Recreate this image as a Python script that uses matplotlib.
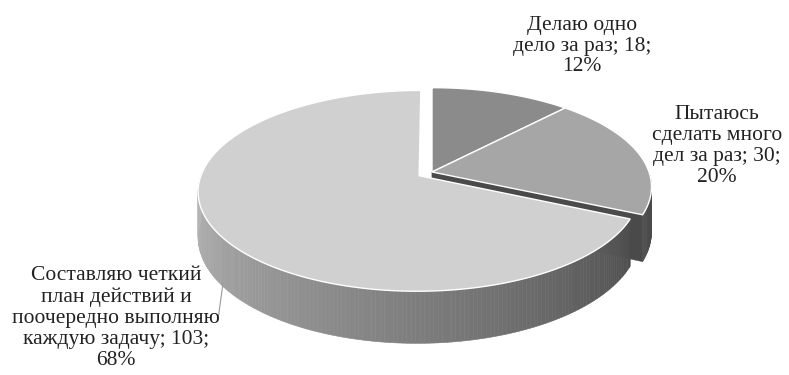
import numpy as np
import matplotlib.pyplot as plt
from matplotlib.patches import Polygon

plt.rcParams['font.family'] = ['Liberation Serif', 'DejaVu Serif']

# data
labels = ['Делаю одно\nдело за раз', 'Пытаюсь\nсделать много\nдел за раз',
          'Составляю четкий\nплан действий и\nпоочередно выполняю\nкаждую задачу']
values = [18, 30, 103]
explode = [0.0, 0.0, 0.07]

top_colors = ['#8b8b8b', '#a6a6a6', '#d0d0d0']
wall_colors = ['#5a5a5a', '#4a4a4a', '#4e4e4e']

# geometry of the 3d pie (screen pixels)
cx, cy = 432, 172
rx, ry = 217, 97
depth = 44
k = 0.15


def proj(theta, r, off, h=0.0):
    t = np.radians(theta)
    X = r * np.sin(t) + off[0]
    Z = r * np.cos(t) + off[1]
    s = 1.0 / (1.0 + k * Z)
    return cx + rx * X * s, cy - ry * Z * s + depth * h * s


def shade(theta):
    # outer wall: light on the left, dark on the right
    f = np.clip((theta - 115) / (270 - 115), 0, 1)
    c1 = np.array([0.30, 0.30, 0.30])
    c2 = np.array([0.72, 0.72, 0.72])
    return c1 + (c2 - c1) * f ** 0.9


fig = plt.figure(figsize=(7.89, 3.75), dpi=100)
ax = fig.add_axes([0, 0, 1, 1])
ax.set_xlim(0, 789)
ax.set_ylim(375, 0)
ax.axis('off')

total = sum(values)
angles = np.cumsum([0] + [v / total * 360 for v in values])

for i in range(len(values)):
    a0, a1 = angles[i], angles[i + 1]
    mid = np.radians((a0 + a1) / 2)
    off = (explode[i] * np.sin(mid), explode[i] * np.cos(mid))

    # radial wall at the end angle (faces the viewer for slice 2)
    if i < 2:
        pts = [proj(a1, 0, off), proj(a1, 1, off), proj(a1, 1, off, 1), proj(a1, 0, off, 1)]
        ax.add_patch(Polygon(pts, closed=True, fc=wall_colors[i], ec=wall_colors[i], lw=0.3))

    # outer wall, only the front half
    lo, hi = max(a0, 90), min(a1, 270)
    if hi > lo:
        ts = np.linspace(lo, hi, int(hi - lo) + 2)
        for t0, t1 in zip(ts[:-1], ts[1:]):
            pts = [proj(t0, 1, off), proj(t1, 1, off), proj(t1, 1, off, 1), proj(t0, 1, off, 1)]
            if i == 2:
                col = shade((t0 + t1) / 2)
            else:
                col = wall_colors[i]
            ax.add_patch(Polygon(pts, closed=True, fc=col, ec=col, lw=0.4))

    # top face
    ts = np.linspace(a0, a1, 200)
    pts = [proj(0, 0, off)] + [proj(t, 1, off) for t in ts]
    ax.add_patch(Polygon(pts, closed=True, fc=top_colors[i], ec='white', lw=1.0))

# labels
pcts = [round(v / total * 100) for v in values]
texts = [f'{l}; {v};\n{p}%' for l, v, p in zip(labels, values, pcts)]
fs = 15.5
kw = dict(ha='center', va='center', fontsize=fs, color='#222222', linespacing=1.14)
ax.text(582, 46, texts[0], **kw)
ax.text(717, 146, texts[1], **kw)
ax.text(116, 318, texts[2], **kw)
ax.plot([218, 223], [320, 283], color='#9a9a9a', lw=0.8)

fig.savefig('out.png', dpi=100)
